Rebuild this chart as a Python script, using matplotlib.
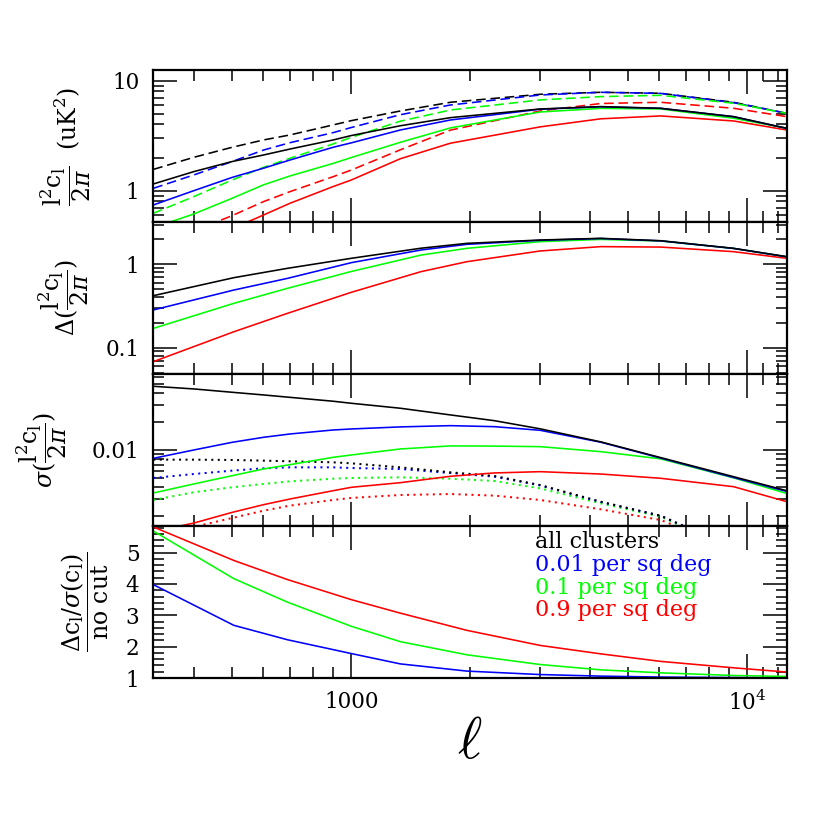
import numpy as np
import matplotlib
matplotlib.use("Agg")
import matplotlib.pyplot as plt
from matplotlib.ticker import FixedLocator, NullFormatter, FixedFormatter, LogLocator, MultipleLocator

plt.rcParams['font.family'] = ['DejaVu Serif']
plt.rcParams['mathtext.fontset'] = 'dejavuserif'

# ---------------- data ----------------
ell1 = [316, 400, 500, 600, 700, 900, 1000, 1330, 1780, 3000, 4270, 6050, 9250, 12600]
p1_all_dash = [1.56, 2.01, 2.48, 2.89, 3.21, 3.96, 4.33, 5.30, 6.36, 7.52, 7.84, 7.68, 6.36, 5.05]
p1_b_dash = [1.05, 1.39, 1.84, 2.34, 2.73, 3.37, 3.75, 4.90, 6.01, 7.41, 7.84, 7.66, 6.31, 5.05]
p1_g_dash = [0.623, 0.883, 1.25, 1.63, 1.97, 2.66, 3.05, 4.28, 5.41, 6.68, 7.16, 7.36, 6.23, 5.05]
p1_r_dash = [0.33, 0.43, 0.593, 0.795, 0.98, 1.34, 1.54, 2.35, 3.55, 5.30, 6.20, 6.36, 5.61, 4.71]
p1_all = [1.15, 1.49, 1.84, 2.11, 2.39, 2.89, 3.17, 3.89, 4.61, 5.53, 5.81, 5.61, 4.71, 3.69]
p1_b = [0.741, 1.00, 1.32, 1.60, 1.90, 2.48, 2.72, 3.56, 4.39, 5.50, 5.79, 5.60, 4.70, 3.68]
p1_g = [0.46, 0.614, 0.853, 1.13, 1.36, 1.77, 2.00, 2.75, 3.72, 5.19, 5.60, 5.53, 4.55, 3.69]
p1_r = [0.26, 0.34, 0.45, 0.601, 0.768, 1.09, 1.25, 1.95, 2.70, 3.80, 4.50, 4.78, 4.30, 3.56]

ell2 = [316, 505, 690, 1000, 1500, 1960, 3000, 4270, 6050, 9250, 12600]
p2_all = [0.420, 0.691, 0.895, 1.18, 1.56, 1.785, 1.957, 2.05, 1.92, 1.555, 1.235]
p2_b = [0.283, 0.491, 0.678, 1.046, 1.485, 1.737, 1.94, 2.04, 1.91, 1.55, 1.23]
p2_g = [0.170, 0.340, 0.515, 0.82, 1.29, 1.555, 1.87, 1.99, 1.905, 1.55, 1.23]
p2_r = [0.0678, 0.155, 0.258, 0.461, 0.816, 1.075, 1.445, 1.63, 1.61, 1.418, 1.18]

ell3 = [316, 400, 500, 600, 700, 900, 1000, 1330, 1780, 2300, 3000, 4270, 6050, 9250, 12600]
p3_all = [0.0476, 0.0446, 0.0411, 0.0385, 0.0363, 0.0330, 0.0314, 0.0278, 0.0236, 0.0205, 0.0168, 0.0122, 0.0083, 0.0052, 0.00369]
p3_b = [0.00815, 0.0100, 0.01207, 0.01364, 0.01480, 0.01632, 0.01673, 0.0176, 0.01815, 0.0177, 0.01620, 0.0121, 0.0082, 0.0051, 0.00362]
p3_g = [0.00349, 0.00435, 0.00533, 0.00628, 0.00698, 0.00836, 0.00885, 0.01025, 0.01105, 0.0110, 0.01085, 0.00960, 0.00805, 0.00505, 0.00345]
p3_r = [0.00135, 0.00167, 0.00217, 0.00262, 0.00301, 0.00369, 0.00401, 0.00449, 0.00525, 0.00570, 0.00588, 0.00555, 0.00500, 0.00407, 0.00282]
p3_all_dot = [0.00789, 0.00789, 0.00783, 0.00770, 0.00758, 0.00739, 0.00721, 0.00654, 0.00579, 0.00529, 0.00424, 0.00282, 0.0020, 0.0009, 0.0005]
p3_b_dot = [0.00504, 0.00555, 0.00603, 0.00638, 0.00654, 0.00654, 0.00643, 0.00628, 0.00569, 0.00520, 0.0042, 0.0028, 0.0020, 0.0009, 0.0005]
p3_g_dot = [0.00294, 0.00355, 0.00401, 0.00435, 0.00464, 0.00495, 0.00504, 0.00512, 0.00495, 0.00468, 0.00391, 0.00271, 0.00195, 0.0009, 0.0005]
p3_r_dot = [0.0012, 0.00152, 0.00189, 0.00226, 0.00256, 0.00294, 0.00309, 0.00332, 0.00340, 0.00327, 0.00294, 0.00234, 0.0018, 0.0009, 0.0005]

ell4 = [316, 505, 690, 1000, 1330, 1960, 3000, 4270, 6050, 9250, 12600]
p4_b = [3.98, 2.68, 2.22, 1.78, 1.45, 1.22, 1.11, 1.06, 1.03, 1.015, 1.0]
p4_g = [5.69, 4.17, 3.42, 2.65, 2.16, 1.74, 1.43, 1.26, 1.165, 1.08, 1.05]
p4_r = [5.82, 4.75, 4.14, 3.50, 3.07, 2.52, 2.04, 1.77, 1.53, 1.325, 1.19]

legend_labels = ['all clusters', '0.01 per sq deg', '0.1 per sq deg', '0.9 per sq deg']
colors = ['black', '#0000ff', '#00ff00', '#ff0000']

xlim = (316, 12600)
x_major = [1000, 10000]
x_major_labels = ['1000', '$10^4$']
x_minor = [400, 500, 600, 700, 800, 900, 2000, 3000, 4000, 5000, 6000, 7000, 8000, 9000, 11000, 12000]

# ---------------- figure ----------------
W = 830.0
fig = plt.figure(figsize=(8.3, 8.3), dpi=100)
left = 153.3 / W
width = 633.4 / W
top_px = 70.0
ph = 152.0
axes = []
for i in range(4):
    y0 = 1 - (top_px + ph * (i + 1)) / W
    ax = fig.add_axes([left, y0, width, ph / W])
    axes.append(ax)

lw = 1.15
dash = (6, 3)
dot = (1, 2.2)
TS = 15.5

def style(ax, logy=True):
    ax.set_xscale('log')
    if logy:
        ax.set_yscale('log')
    ax.set_xlim(*xlim)
    ax.xaxis.set_major_locator(FixedLocator(x_major))
    ax.xaxis.set_minor_locator(FixedLocator(x_minor))
    ax.xaxis.set_minor_formatter(NullFormatter())
    ax.tick_params(which='both', direction='in', top=True, right=True, width=1.1, colors='black')
    ax.tick_params(which='major', length=17)
    ax.tick_params(which='minor', length=8)
    ax.tick_params(axis='y', which='major', pad=10, labelsize=TS)
    ax.tick_params(axis='x', which='major', pad=9, labelsize=TS)
    for s in ax.spines.values():
        s.set_linewidth(1.6)

def ylab(ax, xpos, s, size=17):
    ax.text(xpos, 0.5, s, rotation=90, ha='center', va='center', transform=ax.transAxes, fontsize=size)

frac = r'\dfrac{\mathrm{l}^2\mathrm{c}_\mathrm{l}}{2\pi}'

# panel 1
ax = axes[0]
ax.plot(ell1, p1_all_dash, color=colors[0], lw=lw, dashes=dash)
ax.plot(ell1, p1_b_dash, color=colors[1], lw=lw, dashes=dash)
ax.plot(ell1, p1_g_dash, color=colors[2], lw=lw, dashes=dash)
ax.plot(ell1, p1_r_dash, color=colors[3], lw=lw, dashes=dash)
ax.plot(ell1, p1_r, color=colors[3], lw=lw)
ax.plot(ell1, p1_g, color=colors[2], lw=lw)
ax.plot(ell1, p1_b, color=colors[1], lw=lw)
ax.plot(ell1, p1_all, color=colors[0], lw=lw)
style(ax)
ax.set_ylim(0.519, 12.5)
ax.yaxis.set_major_locator(FixedLocator([1, 10]))
ax.yaxis.set_major_formatter(FixedFormatter(['1', '10']))
ax.yaxis.set_minor_locator(LogLocator(base=10, subs=np.arange(2, 10)))
ax.yaxis.set_minor_formatter(NullFormatter())
ax.set_xticklabels([])
ylab(ax, -0.139, r'$' + frac + r'$  (uK$^2$)')

# panel 2
ax = axes[1]
ax.plot(ell2, p2_r, color=colors[3], lw=lw)
ax.plot(ell2, p2_g, color=colors[2], lw=lw)
ax.plot(ell2, p2_b, color=colors[1], lw=lw)
ax.plot(ell2, p2_all, color=colors[0], lw=lw)
style(ax)
ax.set_ylim(0.0482, 3.22)
ax.yaxis.set_major_locator(FixedLocator([0.1, 1]))
ax.yaxis.set_major_formatter(FixedFormatter(['0.1', '1']))
ax.yaxis.set_minor_locator(LogLocator(base=10, subs=np.arange(2, 10)))
ax.yaxis.set_minor_formatter(NullFormatter())
ax.set_xticklabels([])
ylab(ax, -0.141, r'$\Delta(' + frac + r')$')

# panel 3
ax = axes[2]
ax.plot(ell3, p3_r_dot, color=colors[3], lw=lw + 0.3, dashes=dot)
ax.plot(ell3, p3_g_dot, color=colors[2], lw=lw + 0.3, dashes=dot)
ax.plot(ell3, p3_b_dot, color=colors[1], lw=lw + 0.3, dashes=dot)
ax.plot(ell3, p3_all_dot, color=colors[0], lw=lw + 0.3, dashes=dot)
ax.plot(ell3, p3_r, color=colors[3], lw=lw)
ax.plot(ell3, p3_g, color=colors[2], lw=lw)
ax.plot(ell3, p3_b, color=colors[1], lw=lw)
ax.plot(ell3, p3_all, color=colors[0], lw=lw)
style(ax)
ax.set_ylim(0.001554, 0.0643)
ax.yaxis.set_major_locator(FixedLocator([0.01]))
ax.yaxis.set_major_formatter(FixedFormatter(['0.01']))
ax.yaxis.set_minor_locator(LogLocator(base=10, subs=np.arange(2, 10)))
ax.yaxis.set_minor_formatter(NullFormatter())
ax.set_xticklabels([])
ylab(ax, -0.176, r'$\sigma(' + frac + r')$')

# panel 4
ax = axes[3]
ax.plot(ell4, p4_r, color=colors[3], lw=lw)
ax.plot(ell4, p4_g, color=colors[2], lw=lw)
ax.plot(ell4, p4_b, color=colors[1], lw=lw)
style(ax, logy=False)
ax.set_ylim(1, 5.85)
ax.yaxis.set_major_locator(FixedLocator([1, 2, 3, 4, 5]))
ax.yaxis.set_major_formatter(FixedFormatter(['1', '2', '3', '4', '5']))
ax.yaxis.set_minor_locator(MultipleLocator(0.2))
ax.xaxis.set_major_formatter(FixedFormatter(x_major_labels))
ylab(ax, -0.108, r'$\dfrac{\Delta\mathrm{c}_\mathrm{l}/\sigma(\mathrm{c}_\mathrm{l})}{\mathrm{no\ cut}}$')

ys = [0.897, 0.745, 0.594, 0.445]
for lab, c, yy in zip(legend_labels, colors, ys):
    ax.text(0.603, yy, lab, color=c, ha='left', va='center', transform=ax.transAxes, fontsize=16)

fig.text(470 / W, 1 - 742 / W, r'$\ell$', ha='center', va='center', fontsize=42, math_fontfamily='cm')

fig.savefig('out.png', dpi=100)
